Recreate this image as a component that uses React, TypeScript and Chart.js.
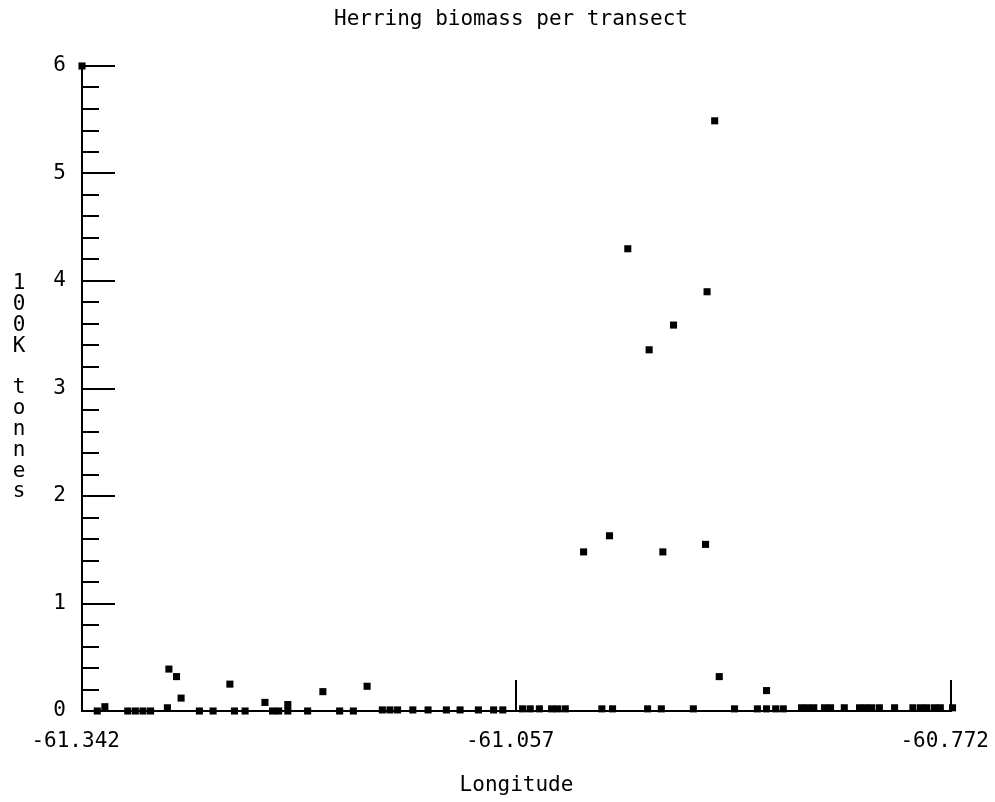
import React, { useEffect, useRef } from "react";
import { Chart, registerables } from "chart.js";
Chart.register(...registerables);

const TITLE = "Herring biomass per transect";
const X_TITLE = "Longitude";
const Y_TITLE = "100K tonnes";
const X_TICKS = [-61.342, -61.057, -60.772];
const Y_TICKS = [0, 1, 2, 3, 4, 5, 6];

const longitude = [
  -61.342, -61.332, -61.327, -61.312, -61.307, -61.302, -61.297, -61.286, -61.285, -61.28,
  -61.277, -61.265, -61.256, -61.245, -61.242, -61.235, -61.222, -61.217, -61.213, -61.207,
  -61.207, -61.194, -61.184, -61.173, -61.164, -61.155, -61.145, -61.14, -61.135, -61.125,
  -61.115, -61.103, -61.094, -61.082, -61.072, -61.066, -61.053, -61.048, -61.042, -61.034,
  -61.03, -61.025, -61.013, -61.001, -60.996, -60.994, -60.984, -60.971, -60.97, -60.962,
  -60.961, -60.954, -60.941, -60.933, -60.932, -60.927, -60.924, -60.914, -60.899, -60.893,
  -60.893, -60.887, -60.882, -60.87, -60.866, -60.862, -60.855, -60.851, -60.842, -60.832,
  -60.828, -60.824, -60.819, -60.809, -60.797, -60.792, -60.788, -60.783, -60.779, -60.771,
];
const biomass = [
  6.0, 0.0, 0.04, 0.0, 0.0, 0.0, 0.0, 0.03, 0.39, 0.32,
  0.12, 0.0, 0.0, 0.25, 0.0, 0.0, 0.08, 0.0, 0.0, 0.06,
  0.0, 0.0, 0.18, 0.0, 0.0, 0.23, 0.01, 0.01, 0.01, 0.01,
  0.01, 0.01, 0.01, 0.01, 0.01, 0.01, 0.02, 0.02, 0.02, 0.02,
  0.02, 0.02, 1.48, 0.02, 1.63, 0.02, 4.3, 0.02, 3.36, 0.02,
  1.48, 3.59, 0.02, 1.55, 3.9, 5.49, 0.32, 0.02, 0.02, 0.19,
  0.02, 0.02, 0.02, 0.03, 0.03, 0.03, 0.03, 0.03, 0.03, 0.03,
  0.03, 0.03, 0.03, 0.03, 0.03, 0.03, 0.03, 0.03, 0.03, 0.03,
];

const FONT = "'DejaVu Sans Mono', monospace";
const FS = 21;

const axisDecor = {
  id: "axisDecor",
  afterDraw(chart: any) {
    const ctx = chart.ctx;
    const xs = chart.scales.x;
    const ys = chart.scales.y;
    const left = chart.chartArea.left;
    const bottom = chart.chartArea.bottom;
    ctx.save();
    ctx.strokeStyle = "#000";
    ctx.lineWidth = 2;
    // y ticks (major + minor, inward)
    for (let i = 0; i <= 30; i++) {
      const v = i * 0.2;
      const py = Math.round(ys.getPixelForValue(v));
      const len = i % 5 === 0 ? 33 : 17;
      ctx.beginPath();
      ctx.moveTo(left, py);
      ctx.lineTo(left + len, py);
      ctx.stroke();
    }
    // x ticks (upward)
    X_TICKS.slice(1).forEach((v) => {
      const px = Math.round(xs.getPixelForValue(v));
      ctx.beginPath();
      ctx.moveTo(px, bottom);
      ctx.lineTo(px, bottom - 31);
      ctx.stroke();
    });
    // title
    ctx.fillStyle = "#000";
    ctx.font = `${FS}px ${FONT}`;
    ctx.textAlign = "center";
    ctx.textBaseline = "middle";
    ctx.fillText(TITLE, 511, 20);
    // vertical stacked y title
    const chars = Y_TITLE.split("");
    chars.forEach((c, i) => {
      if (c !== " ") ctx.fillText(c, 19, 284 + i * 20.8);
    });
    ctx.restore();
  },
};

export default function App() {
  const ref = useRef<HTMLCanvasElement>(null);
  useEffect(() => {
    if (!ref.current) return;
    const data = longitude.map((x, i) => ({ x, y: biomass[i] }));
    const chart = new Chart(ref.current, {
      type: "scatter",
      data: {
        datasets: [
          {
            data,
            pointStyle: "rect",
            radius: 5,
            backgroundColor: "#000",
            borderColor: "#000",
            borderWidth: 0,
            clip: false as any,
          },
        ],
      },
      options: {
        animation: false,
        responsive: false,
        layout: { padding: { left: 0, right: 44, top: 66, bottom: 0 } },
        plugins: { legend: { display: false }, tooltip: { enabled: false }, title: { display: false } },
        scales: {
          x: {
            type: "linear",
            min: X_TICKS[0],
            max: X_TICKS[X_TICKS.length - 1],
            afterBuildTicks: (s: any) => {
              s.ticks = X_TICKS.map((v) => ({ value: v }));
            },
            afterFit: (s: any) => {
              s.height = 91;
              s.paddingLeft = 0;
              s.paddingRight = 0;
            },
            grid: { display: false, drawTicks: false },
            border: { display: true, color: "#000", width: 2 },
            ticks: {
              color: "#000",
              font: { family: FONT, size: FS },
              padding: 18,
              maxRotation: 0,
              autoSkip: false,
              callback: (v: any) => Number(v).toFixed(3) + " ",
            },
            title: {
              display: true,
              text: X_TITLE,
              color: "#000",
              font: { family: FONT, size: FS },
              padding: { top: 0, bottom: 4 },
            },
          },
          y: {
            type: "linear",
            min: Y_TICKS[0],
            max: Y_TICKS[Y_TICKS.length - 1],
            afterBuildTicks: (s: any) => {
              s.ticks = Y_TICKS.map((v) => ({ value: v }));
            },
            afterFit: (s: any) => {
              s.width = 82;
              s.paddingTop = 0;
              s.paddingBottom = 0;
            },
            grid: { display: false, drawTicks: false },
            border: { display: true, color: "#000", width: 2 },
            ticks: {
              color: "#000",
              font: { family: FONT, size: FS },
              padding: 16,
              autoSkip: false,
            },
          },
        },
      },
      plugins: [axisDecor],
    });
    return () => chart.destroy();
  }, []);
  return (
    <div style={{ position: "fixed", left: 0, top: 0, width: 995, height: 802, background: "#fff" }}>
      <canvas ref={ref} width={995} height={802} style={{ width: 995, height: 802 }} />
    </div>
  );
}
